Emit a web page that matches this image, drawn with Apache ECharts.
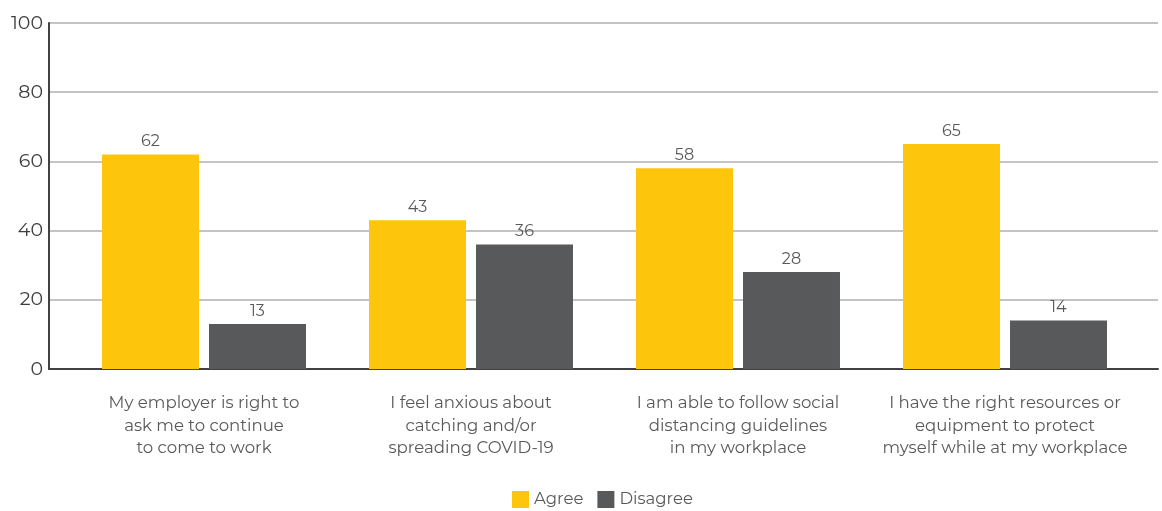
<!DOCTYPE html>
<html>
<head>
<meta charset="utf-8">
<script src="https://cdn.jsdelivr.net/npm/echarts@6/dist/echarts.min.js"></script>
<style>
html,body{margin:0;padding:0;background:#fff;}
#chart{width:1162px;height:511px;}
</style>
</head>
<body>
<div id="chart"></div>
<script>
var categories = [
  "My employer is right to\nask me to continue\nto come to work",
  "I feel anxious about\ncatching and/or\nspreading COVID-19",
  "I am able to follow social\ndistancing guidelines\nin my workplace",
  "I have the right resources or\nequipment to protect\nmyself while at my workplace"
];
var agree = [62, 43, 58, 65];
var disagree = [13, 36, 28, 14];
var yTicks = [0, 20, 40, 60, 80, 100];

var FONT = "Montserrat, 'Open Sans', 'DejaVu Sans', sans-serif";
var chart = echarts.init(document.getElementById('chart'));
chart.setOption({
  animation: false,
  textStyle: { fontFamily: FONT },
  legend: {
    top: 486,
    left: 507,
    itemWidth: 17,
    itemHeight: 17,
    itemGap: 14,
    icon: 'rect',
    textStyle: { fontSize: 16.5, color: '#58595B', fontFamily: FONT },
    data: ['Agree', 'Disagree']
  },
  grid: [
    { left: 49, right: 4, top: 23, bottom: 142, containLabel: false },
    { left: 70.5, width: 1068, top: 23, bottom: 142, containLabel: false }
  ],
  xAxis: [
    { gridIndex: 0, type: 'category', data: categories, show: true,
      axisLine: { show: true, lineStyle: { color: '#414042', width: 2 } },
      axisTick: { show: false }, axisLabel: { show: false }, splitLine: { show: false } },
    { gridIndex: 1, type: 'category', data: categories,
      axisLine: { show: false }, axisTick: { show: false },
      axisLabel: { show: true, interval: 0, margin: 23, fontSize: 16.6, lineHeight: 22.5,
        color: '#58595B', fontFamily: FONT, align: 'center' } }
  ],
  yAxis: [
    { gridIndex: 0, type: 'value', min: yTicks[0], max: yTicks[yTicks.length - 1], interval: 20,
      axisLine: { show: true, lineStyle: { color: '#414042', width: 2 } },
      axisTick: { show: false },
      axisLabel: { fontSize: 19, color: '#3d3d3f', margin: 6, fontFamily: FONT },
      splitLine: { show: true, lineStyle: { color: '#c4c4c4', width: 2 } } },
    { gridIndex: 1, type: 'value', min: 0, max: 100, interval: 20, show: false,
      splitLine: { show: false } }
  ],
  series: [
    { name: 'Agree', type: 'bar', xAxisIndex: 1, yAxisIndex: 1, data: agree,
      barWidth: 97, barGap: '10.3%',
      itemStyle: { color: '#FDC50C' },
      label: { show: true, position: 'top', distance: 5, fontSize: 16, color: '#58595B', fontFamily: FONT } },
    { name: 'Disagree', type: 'bar', xAxisIndex: 1, yAxisIndex: 1, data: disagree,
      barWidth: 97, barGap: '10.3%',
      itemStyle: { color: '#58595B' },
      label: { show: true, position: 'top', distance: 5, fontSize: 16, color: '#58595B', fontFamily: FONT } }
  ]
});
</script>
</body>
</html>
